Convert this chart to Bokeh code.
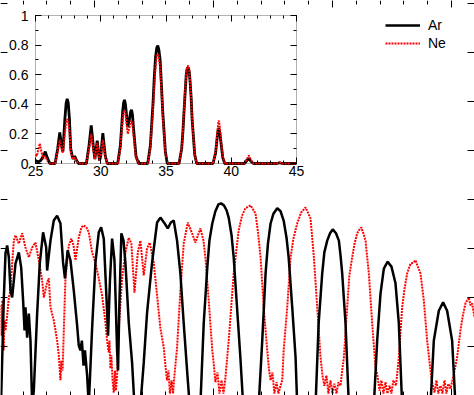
from bokeh.plotting import figure
from bokeh.models import (Range1d, LinearAxis, FixedTicker, Legend, LegendItem,
                          CustomJSTickFormatter, BoxAnnotation)
from bokeh.embed import file_html
from bokeh.resources import INLINE

# ---------------- main panel data (x in arbitrary units, y signal) ----------------
ar_main = [(1.07, -0.02), (1.19, 0.200), (1.26, 0.290), (1.33, 0.306), (1.40, 0.282), (1.47, 0.214),
           (1.54, 0.200), (1.68, 0.269), (1.82, 0.292), (1.92, 0.261), (2.00, 0.194), (2.06, 0.133),
           (2.10, 0.180), (2.17, 0.118), (2.24, 0.167), (2.31, 0.112), (2.38, -0.02), (2.45, 0.01),
           (2.59, 0.167), (2.70, 0.269), (2.84, 0.333), (2.97, 0.302), (3.01, 0.255), (3.15, 0.316),
           (3.29, 0.357), (3.43, 0.367), (3.57, 0.351), (3.68, 0.271), (3.76, 0.239), (3.87, 0.296),
           (3.99, 0.276), (4.13, 0.214), (4.27, 0.143), (4.34, 0.102), (4.41, 0.092), (4.47, 0.112),
           (4.54, 0.061), (4.60, 0.092), (4.69, 0.041), (4.76, -0.02), (4.90, 0.137), (5.04, 0.271),
           (5.18, 0.333), (5.28, 0.343), (5.39, 0.320), (5.50, 0.204), (5.57, 0.122), (5.65, 0.235),
           (5.74, 0.320), (5.84, 0.276), (5.95, 0.092), (5.99, 0.051), (6.05, 0.194), (6.13, 0.331),
           (6.22, 0.316), (6.30, 0.271), (6.44, 0.149), (6.58, 0.067), (6.68, -0.02), (6.93, -0.02),
           (7.07, 0.067), (7.21, 0.169), (7.42, 0.271), (7.63, 0.353), (7.77, 0.363), (7.92, 0.353),
           (8.08, 0.341), (8.21, 0.353), (8.33, 0.357), (8.47, 0.316), (8.61, 0.249), (8.75, 0.147),
           (8.90, 0.045), (9.00, -0.02), (9.45, -0.02), (9.59, 0.147), (9.74, 0.261), (9.83, 0.316),
           (9.95, 0.351), (10.08, 0.376), (10.21, 0.390), (10.32, 0.392), (10.44, 0.388), (10.55, 0.378),
           (10.64, 0.363), (10.76, 0.327), (10.85, 0.282), (10.99, 0.180), (11.13, 0.078), (11.25, -0.02),
           (11.90, -0.02), (12.05, 0.112), (12.19, 0.249), (12.29, 0.310), (12.40, 0.351), (12.52, 0.371),
           (12.68, 0.382), (12.82, 0.376), (12.95, 0.357), (13.07, 0.322), (13.16, 0.282), (13.31, 0.180),
           (13.45, 0.078), (13.52, -0.02), (14.29, -0.02), (14.42, 0.147), (14.57, 0.249), (14.66, 0.292),
           (14.78, 0.316), (14.90, 0.331), (15.01, 0.339), (15.15, 0.331), (15.27, 0.316), (15.34, 0.286),
           (15.41, 0.249), (15.55, 0.147), (15.69, -0.02), (16.74, -0.02), (16.88, 0.112), (17.02, 0.208),
           (17.16, 0.259), (17.32, 0.273), (17.48, 0.263), (17.65, 0.229), (17.79, 0.147), (17.93, -0.02),
           (19.12, -0.02), (19.26, 0.112), (19.47, 0.173), (19.65, 0.190), (19.82, 0.173), (20.03, 0.112),
           (20.17, -0.02), (20.97, -0.02)]

ne_main = [(1.05, 0.184), (1.09, 0.122), (1.13, 0.194), (1.18, 0.092), (1.22, 0.153), (1.26, 0.133),
           (1.33, 0.163), (1.40, 0.200), (1.47, 0.214), (1.54, 0.269), (1.61, 0.316), (1.68, 0.327),
           (1.82, 0.310), (1.96, 0.331), (2.10, 0.302), (2.24, 0.282), (2.38, 0.302), (2.52, 0.312),
           (2.66, 0.276), (2.80, 0.235), (2.87, 0.200), (3.01, 0.231), (3.08, 0.239), (3.15, 0.180),
           (3.29, 0.153), (3.36, 0.133), (3.43, 0.112), (3.50, 0.082), (3.57, 0.031), (3.61, 0.071),
           (3.66, 0.051), (3.71, 0.133), (3.78, 0.239), (3.92, 0.306), (4.03, 0.320), (4.12, 0.306),
           (4.20, 0.276), (4.34, 0.322), (4.45, 0.343), (4.55, 0.347), (4.66, 0.343), (4.76, 0.333),
           (4.90, 0.292), (5.04, 0.271), (5.18, 0.239), (5.32, 0.204), (5.40, 0.173), (5.46, 0.149),
           (5.53, 0.112), (5.60, 0.088), (5.63, 0.112), (5.67, 0.055), (5.71, 0.082), (5.76, 0.031),
           (5.81, 0.006), (5.86, 0.051), (5.90, 0.010), (5.95, 0.041), (6.02, 0.137), (6.16, 0.239),
           (6.30, 0.292), (6.44, 0.322), (6.55, 0.310), (6.68, 0.210), (6.82, 0.292), (6.93, 0.316),
           (7.07, 0.245), (7.21, 0.300), (7.32, 0.312), (7.49, 0.271), (7.63, 0.204), (7.77, 0.137),
           (7.91, 0.098), (7.98, 0.061), (8.05, 0.031), (8.11, 0.051), (8.17, 0.004), (8.24, 0.031),
           (8.30, 0.004), (8.36, 0.041), (8.47, 0.098), (8.61, 0.214), (8.75, 0.310), (8.92, 0.353),
           (9.10, 0.331), (9.24, 0.312), (9.45, 0.341), (9.58, 0.316), (9.66, 0.282), (9.80, 0.194),
           (9.95, 0.092), (10.02, 0.061), (10.08, 0.027), (10.17, 0.047), (10.25, 0.004), (10.34, 0.031),
           (10.42, 0.004), (10.50, 0.035), (10.64, 0.112), (10.85, 0.249), (11.06, 0.337), (11.20, 0.367),
           (11.34, 0.382), (11.56, 0.388), (11.77, 0.371), (11.87, 0.333), (11.98, 0.282), (12.11, 0.180),
           (12.26, 0.092), (12.33, 0.055), (12.40, 0.031), (12.48, 0.047), (12.56, 0.004), (12.65, 0.027),
           (12.73, 0.004), (12.82, 0.020), (12.89, 0.031), (12.95, 0.092), (13.10, 0.180), (13.24, 0.282),
           (13.36, 0.320), (13.52, 0.351), (13.68, 0.373), (13.87, 0.384), (14.08, 0.361), (14.22, 0.282),
           (14.36, 0.180), (14.50, 0.078), (14.58, 0.041), (14.66, 0.020), (14.75, 0.041), (14.83, 0.004),
           (14.92, 0.031), (15.00, 0.004), (15.08, 0.024), (15.17, 0.004), (15.25, 0.027), (15.34, 0.020),
           (15.41, 0.051), (15.48, 0.078), (15.62, 0.180), (15.71, 0.245), (15.83, 0.282), (15.93, 0.310),
           (16.04, 0.331), (16.11, 0.337), (16.21, 0.343), (16.30, 0.331), (16.39, 0.316), (16.53, 0.249),
           (16.67, 0.147), (16.81, 0.057), (16.89, 0.041), (16.98, 0.010), (17.06, 0.031), (17.14, 0.004),
           (17.23, 0.027), (17.31, 0.004), (17.40, 0.020), (17.48, 0.004), (17.56, 0.031), (17.67, 0.020),
           (17.79, 0.078), (17.93, 0.180), (18.03, 0.218), (18.14, 0.249), (18.28, 0.269), (18.40, 0.271),
           (18.49, 0.276), (18.57, 0.265), (18.70, 0.249), (18.84, 0.194), (18.98, 0.112), (19.12, 0.051),
           (19.20, 0.024), (19.29, 0.006), (19.37, 0.031), (19.45, 0.004), (19.54, 0.020), (19.62, 0.004),
           (19.71, 0.031), (19.79, 0.004), (19.87, 0.024), (19.96, 0.014), (20.09, 0.041), (20.24, 0.078),
           (20.38, 0.133), (20.48, 0.163), (20.59, 0.188), (20.73, 0.200), (20.80, 0.184), (20.87, 0.188),
           (20.97, 0.159)]

# ---------------- inset data (harmonic order vs. normalised yield) ----------------
ar_inset = [(25.0, 0.02), (25.2, 0.01), (25.4, 0.02), (25.6, 0.05), (25.75, 0.08), (25.9, 0.04),
            (26.1, 0.0), (26.5, 0.0), (26.7, 0.10), (26.86, 0.21), (27.0, 0.12), (27.1, 0.08),
            (27.25, 0.30), (27.35, 0.41), (27.43, 0.437), (27.51, 0.41), (27.6, 0.30), (27.7, 0.10),
            (27.8, 0.055), (27.9, 0.03), (28.0, 0.05), (28.15, 0.02), (28.3, 0.0), (28.9, 0.0),
            (29.1, 0.12), (29.27, 0.257), (29.45, 0.10), (29.55, 0.03), (29.73, 0.155), (29.9, 0.02),
            (30.0, 0.05), (30.16, 0.205), (30.35, 0.05), (30.5, 0.0), (31.3, 0.0), (31.5, 0.12),
            (31.68, 0.35), (31.75, 0.41), (31.82, 0.43), (31.89, 0.40), (31.95, 0.35), (32.07, 0.245),
            (32.2, 0.30), (32.29, 0.35), (32.36, 0.363), (32.43, 0.33), (32.5, 0.25), (32.7, 0.05),
            (32.9, 0.0), (33.6, 0.0), (33.8, 0.12), (34.0, 0.40), (34.1, 0.58), (34.2, 0.72),
            (34.29, 0.78), (34.37, 0.797), (34.45, 0.77), (34.55, 0.70), (34.65, 0.53), (34.75, 0.35),
            (34.95, 0.08), (35.1, 0.0), (36.0, 0.0), (36.2, 0.10), (36.3, 0.22), (36.4, 0.38),
            (36.55, 0.60), (36.62, 0.64), (36.7, 0.65), (36.78, 0.62), (36.85, 0.55), (36.93, 0.44),
            (37.0, 0.30), (37.2, 0.06), (37.35, 0.0), (38.6, 0.0), (38.8, 0.07), (38.95, 0.20),
            (39.0, 0.23), (39.05, 0.24), (39.12, 0.21), (39.2, 0.15), (39.35, 0.04), (39.5, 0.0),
            (41.0, 0.0), (41.2, 0.02), (41.35, 0.035), (41.5, 0.015), (41.7, 0.0), (43.5, 0.0),
            (43.7, 0.005), (43.9, 0.0), (45.0, 0.0)]

ne_inset = [(25.0, 0.06), (25.1, 0.05), (25.2, 0.09), (25.33, 0.135), (25.45, 0.08), (25.6, 0.03),
            (25.75, 0.05), (25.9, 0.02), (26.1, 0.0), (26.5, 0.0), (26.7, 0.08), (26.86, 0.16),
            (27.0, 0.10), (27.1, 0.07), (27.25, 0.20), (27.35, 0.28), (27.43, 0.30), (27.51, 0.28),
            (27.6, 0.22), (27.7, 0.08), (27.85, 0.03), (28.0, 0.04), (28.15, 0.015), (28.3, 0.0),
            (28.9, 0.0), (29.1, 0.10), (29.27, 0.20), (29.45, 0.08), (29.55, 0.03), (29.73, 0.14),
            (29.9, 0.02), (30.0, 0.04), (30.16, 0.16), (30.35, 0.04), (30.5, 0.0), (31.3, 0.0),
            (31.5, 0.10), (31.68, 0.30), (31.75, 0.345), (31.82, 0.36), (31.89, 0.34), (31.95, 0.29),
            (32.07, 0.20), (32.2, 0.24), (32.29, 0.28), (32.36, 0.29), (32.43, 0.26), (32.5, 0.20),
            (32.7, 0.04), (32.9, 0.0), (33.6, 0.0), (33.8, 0.10), (34.0, 0.36), (34.1, 0.52),
            (34.2, 0.66), (34.29, 0.725), (34.37, 0.74), (34.45, 0.72), (34.55, 0.65), (34.65, 0.50),
            (34.75, 0.32), (34.95, 0.07), (35.1, 0.0), (36.0, 0.0), (36.2, 0.10), (36.3, 0.22),
            (36.4, 0.40), (36.55, 0.60), (36.62, 0.65), (36.7, 0.662), (36.78, 0.64), (36.85, 0.55),
            (36.93, 0.44), (37.0, 0.30), (37.2, 0.06), (37.35, 0.0), (38.6, 0.0), (38.8, 0.08),
            (38.95, 0.22), (39.0, 0.27), (39.05, 0.29), (39.12, 0.25), (39.2, 0.17), (39.35, 0.05),
            (39.5, 0.0), (41.0, 0.0), (41.2, 0.03), (41.35, 0.054), (41.5, 0.025), (41.7, 0.0),
            (43.5, 0.0), (43.7, 0.008), (43.9, 0.0), (45.0, 0.0)]

series_names = ["Ar", "Ne"]

main_x_major = [5, 10, 15, 20]
main_x_minor = list(range(2, 21))
main_y_major = [0.1, 0.2, 0.3, 0.4, 0.5, 0.6, 0.7, 0.8]

inset_x_ticks = [25, 30, 35, 40, 45]
inset_x_labels = ["25", "30", "35", "40", "45"]
inset_x_minor = list(range(25, 46))
inset_y_ticks = [0, 0.2, 0.4, 0.6, 0.8, 1]
inset_y_labels = ["0", "0.2", "0.4", "0.6", "0.8", "1"]
inset_y_minor = [0, 0.1, 0.2, 0.3, 0.4, 0.5, 0.6, 0.7, 0.8, 0.9, 1]

# ---------------- layout constants ----------------
W, H = 474, 395
FONT = "Liberation Sans"
BLACK_W, RED_W, RED_DASH = 2.5, 2.0, "2 1"
INSET_BLACK_W = 2.8
MAIN_X = (1.05, 20.97)
MAIN_Y = (0.0, 0.806)
# inset frame in screen pixels inside the canvas
IN_L, IN_R, IN_T, IN_B = 35, 296, 15, 163


def unzip(pts):
    return [q[0] for q in pts], [q[1] for q in pts]


# extra ranges that map the inset data onto its rectangle of the canvas
x0, x1 = inset_x_ticks[0], inset_x_ticks[-1]
y0, y1 = inset_y_ticks[0], inset_y_ticks[-1]
ux = (x1 - x0) / (IN_R - IN_L)
uy = (y1 - y0) / (IN_B - IN_T)
inset_xr = Range1d(x0 - IN_L * ux, x1 + (W - IN_R) * ux)
inset_yr = Range1d(y0 - (H - IN_B) * uy, y1 + IN_T * uy)

p = figure(width=W, height=H, output_backend="svg", toolbar_location=None,
           x_range=Range1d(*MAIN_X), y_range=Range1d(*MAIN_Y),
           x_axis_location=None, y_axis_location=None, min_border=0)
p.extra_x_ranges = {"ix": inset_xr}
p.extra_y_ranges = {"iy": inset_yr}
p.outline_line_color = None
p.grid.visible = False
p.background_fill_color = "white"
p.border_fill_color = "white"

empty = CustomJSTickFormatter(code="return ''")


def tick_axis(side, ticker, loc, major_len, minor_len, xr="default", yr="default", labels=None,
              standoff=0):
    ax = LinearAxis(ticker=ticker, fixed_location=loc, x_range_name=xr, y_range_name=yr)
    ax.axis_line_color = None
    ax.major_tick_in = major_len
    ax.major_tick_out = 0
    ax.minor_tick_in = minor_len
    ax.minor_tick_out = 0
    ax.major_tick_line_color = "black"
    ax.minor_tick_line_color = "black"
    if labels is None:
        ax.formatter = empty
        ax.major_label_text_font_size = "0px"
        ax.major_label_standoff = 0
    else:
        ax.major_label_overrides = labels
        ax.major_label_text_font = FONT
        ax.major_label_text_font_size = "14px"
        ax.major_label_text_color = "black"
        ax.major_label_standoff = standoff
    p.add_layout(ax, side)
    return ax


# ticks on the edges of the main panel (its labels lie outside the picture)
tick_axis("above", FixedTicker(ticks=main_x_major, minor_ticks=main_x_minor), MAIN_Y[1], 7, 4)
tick_axis("below", FixedTicker(ticks=main_x_major, minor_ticks=main_x_minor), MAIN_Y[0], 7, 4)
tick_axis("left", FixedTicker(ticks=main_y_major, minor_ticks=[]), MAIN_X[0], 7, 0)
tick_axis("right", FixedTicker(ticks=main_y_major, minor_ticks=[]), MAIN_X[1], 7, 0)

# main curves
ax_x, ax_y = unzip(ar_main)
ne_x, ne_y = unzip(ne_main)
r_ne = p.line(ne_x, ne_y, line_color="red", line_width=RED_W, line_dash=RED_DASH)
r_ar = p.line(ax_x, ax_y, line_color="black", line_width=BLACK_W)

# inset frame
box = BoxAnnotation(left=x0, right=x1, bottom=y0, top=y1, x_range_name="ix", y_range_name="iy",
                    fill_color="white", fill_alpha=1.0, line_color="black", line_width=1,
                    level="underlay")
p.add_layout(box)

# inset axes
tick_axis("below", FixedTicker(ticks=inset_x_ticks, minor_ticks=inset_x_minor), y0, 6, 3,
          xr="ix", yr="iy", labels=dict(zip(inset_x_ticks, inset_x_labels)), standoff=2)
tick_axis("above", FixedTicker(ticks=inset_x_ticks, minor_ticks=inset_x_minor), y1, 6, 3,
          xr="ix", yr="iy")
tick_axis("left", FixedTicker(ticks=inset_y_ticks, minor_ticks=inset_y_minor), x0, 6, 3,
          xr="ix", yr="iy", labels=dict(zip(inset_y_ticks, inset_y_labels)), standoff=7)
tick_axis("right", FixedTicker(ticks=inset_y_ticks, minor_ticks=inset_y_minor), x1, 6, 3,
          xr="ix", yr="iy")

ia_x, ia_y = unzip(ar_inset)
in_x, in_y = unzip(ne_inset)
p.line(ia_x, ia_y, line_color="black", line_width=INSET_BLACK_W, x_range_name="ix", y_range_name="iy")
p.line(in_x, in_y, line_color="red", line_width=RED_W, line_dash=RED_DASH,
       x_range_name="ix", y_range_name="iy")

# legend: bottom-left corner given in screen units from the frame's bottom-left
legend = Legend(items=[LegendItem(label=series_names[0], renderers=[r_ar]),
                       LegendItem(label=series_names[1], renderers=[r_ne])],
                location=(385, 343), orientation="vertical")
legend.border_line_color = None
legend.background_fill_alpha = 0
legend.padding = 0
legend.spacing = 0
legend.margin = 0
legend.label_height = 18
legend.glyph_height = 18
legend.glyph_width = 35
legend.label_standoff = 8
legend.label_text_font = FONT
legend.label_text_font_size = "14px"
legend.label_text_color = "black"
p.add_layout(legend)

open("out.html", "w").write(file_html(p, INLINE))
